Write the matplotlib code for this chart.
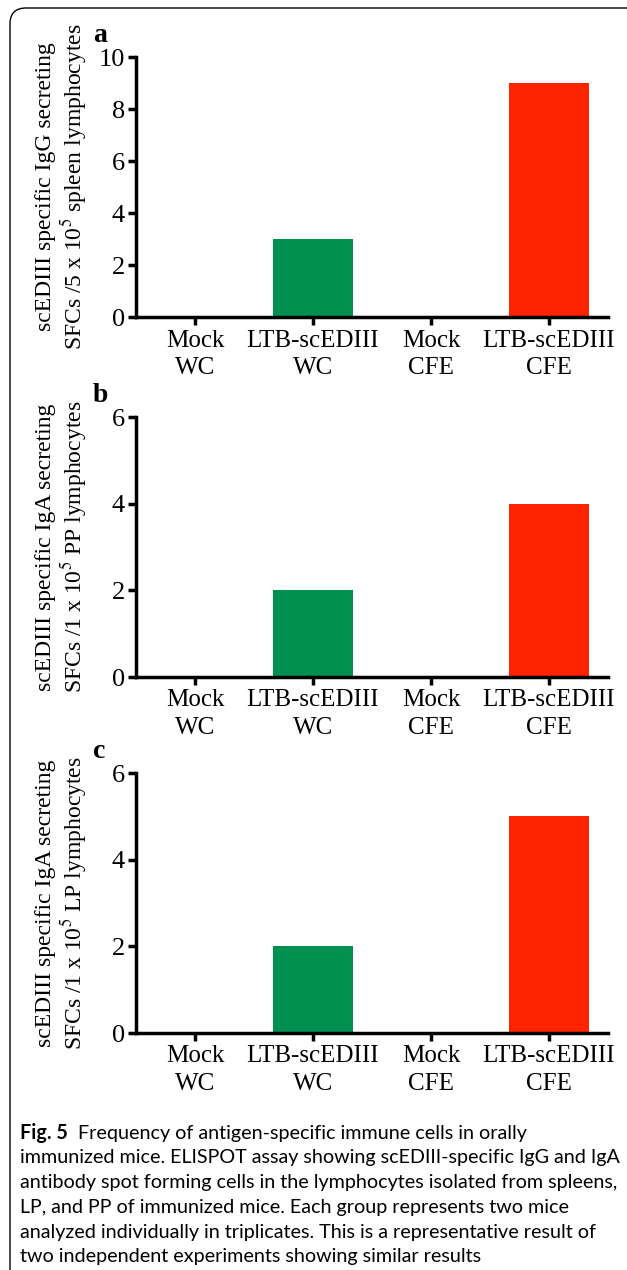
import matplotlib
matplotlib.use("Agg")
import matplotlib.pyplot as plt
from matplotlib.patches import FancyBboxPatch

plt.rcParams['font.family'] = ['Liberation Serif', 'DejaVu Serif']
plt.rcParams['mathtext.fontset'] = 'stix'

# data
groups = ['Mock\nWC', 'LTB-scEDIII\nWC', 'Mock\nCFE', 'LTB-scEDIII\nCFE']
igg_spleen = [0, 3, 0, 9]
iga_pp = [0, 2, 0, 4]
iga_lp = [0, 2, 0, 5]
bar_colors = ['#00904f', '#00904f', '#ff2400', '#ff2400']

panels = [
    ('a', igg_spleen, 10, [0, 2, 4, 6, 8, 10],
     'scEDIII specific IgG secreting\nSFCs /5 x 10$^5$ spleen lymphocytes', 57, 317),
    ('b', iga_pp, 6, [0, 2, 4, 6],
     'scEDIII specific IgA secreting\nSFCs /1 x 10$^5$ PP lymphocytes', 417, 677),
    ('c', iga_lp, 6, [0, 2, 4, 6],
     'scEDIII specific IgA secreting\nSFCs /1 x 10$^5$ LP lymphocytes', 773, 1033),
]

W, H = 627, 1270
fig = plt.figure(figsize=(W / 100, H / 100), dpi=100)

left, right = 136, 608
for letter, vals, ymax, yticks, ylab, top, bot in panels:
    ax = fig.add_axes([left / W, 1 - bot / H, (right - left) / W, (bot - top) / H])
    x = range(len(groups))
    ax.bar(x, vals, width=0.67, color=bar_colors)
    ax.set_xlim(-0.5, 3.5)
    ax.set_ylim(0, ymax)
    ax.set_yticks(yticks)
    ax.set_xticks(list(x))
    ax.set_xticklabels(groups, fontsize=18, linespacing=1.3)
    ax.tick_params(axis='y', labelsize=19, width=2.5, length=6, pad=2)
    ax.tick_params(axis='x', width=2.5, length=6, pad=3)
    for s in ['top', 'right']:
        ax.spines[s].set_visible(False)
    for s in ['left', 'bottom']:
        ax.spines[s].set_linewidth(2.5)
    fig.text(62 / W, 1 - (top + bot) / 2 / H, ylab, rotation=90, fontsize=17,
             ha='center', va='center', multialignment='center', linespacing=1.1)
    fig.text(93 / W, 1 - (top - 22) / H, letter, fontsize=20, fontweight='bold',
             ha='left', va='center')

# caption
cap_font = ['Lato', 'DejaVu Sans']
cap_size = 14.2
cap_x = 20 / W
first = fig.text(cap_x, 1 - 1133 / H, 'Fig. 5', fontsize=cap_size, fontweight='bold',
                 family=cap_font, va='center')
ann_ax = fig.add_axes([0, 0, 1, 1])
ann_ax.axis('off')
ann_ax.annotate('  Frequency of antigen-specific immune cells in orally', xy=(1, 0.5),
                xycoords=first, va='center', ha='left', fontsize=cap_size, family=cap_font)
cap_lines = [
    'immunized mice. ELISPOT assay showing scEDIII-specific IgG and IgA',
    'antibody spot forming cells in the lymphocytes isolated from spleens,',
    'LP, and PP of immunized mice. Each group represents two mice',
    'analyzed individually in triplicates. This is a representative result of',
    'two independent experiments showing similar results',
]
for i, line in enumerate(cap_lines):
    fig.text(cap_x, 1 - (1158 + 24.7 * i) / H, line, fontsize=cap_size,
             family=cap_font, va='center')

# border
box = FancyBboxPatch((10, -20), 700, H - 8 + 20, boxstyle='round,pad=0,rounding_size=16',
                     transform=None, fill=False, edgecolor='black', linewidth=1.0)
fig.patches.append(box)

fig.savefig('out.png', dpi=100)
